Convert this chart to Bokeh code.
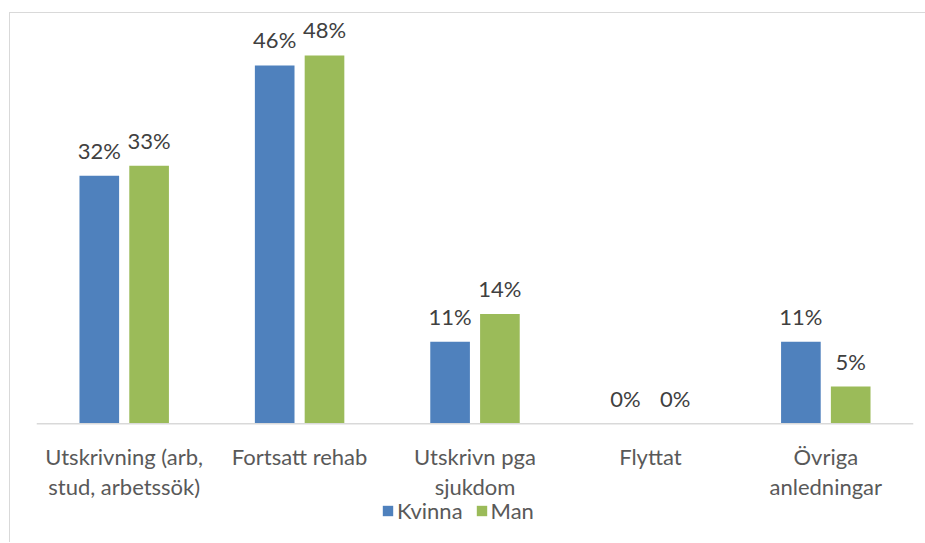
from bokeh.plotting import figure
from bokeh.models import ColumnDataSource, LabelSet, Legend, LegendItem, FactorRange, Span
from bokeh.core.properties import value
from bokeh.transform import dodge
from bokeh.embed import file_html
from bokeh.resources import INLINE

categories = ["Utskrivning (arb,\nstud, arbetssök)", "Fortsatt rehab", "Utskrivn pga\nsjukdom", "Flyttat", "Övriga\nanledningar"]
series_names = ["Kvinna", "Man"]
kvinna = [32.1, 46.4, 10.6, 0.0, 10.6]
man = [33.4, 47.7, 14.2, 0.0, 4.8]
colors = ["#4f81bd", "#9bbb59"]

FONT = "Lato"

src = ColumnDataSource(data=dict(
    cat=categories,
    kvinna=kvinna,
    man=man,
    kvinna_lbl=[f"{round(v)}%" for v in kvinna],
    man_lbl=[f"{round(v)}%" for v in man],
))
line1 = [c.split("\n")[0] for c in categories]
line2 = [c.split("\n")[1] if "\n" in c else "" for c in categories]
cat_src = ColumnDataSource(data=dict(cat=categories, y=[0] * len(categories),
                                     line1=line1, line2=line2))

p = figure(x_range=FactorRange(*categories), y_range=(-15.39, 53),
           frame_width=877, frame_height=528, output_backend="svg", toolbar_location=None,
           x_axis_location=None, y_axis_location=None,
           min_border_left=26, min_border_right=12, min_border_top=1, min_border_bottom=0)
p.margin = (12, 0, 0, 9)
p.styles = {"border-left": "1px solid #d9d9d9", "border-top": "1px solid #d9d9d9"}
p.outline_line_color = None
p.background_fill_color = "white"
p.border_fill_color = "white"
p.xgrid.grid_line_color = None
p.ygrid.grid_line_color = None

r1 = p.vbar(x=dodge("cat", -0.142, range=p.x_range), top="kvinna", width=0.226,
            source=src, color=colors[0], line_color=None)
r2 = p.vbar(x=dodge("cat", 0.142, range=p.x_range), top="man", width=0.226,
            source=src, color=colors[1], line_color=None)

# category baseline (axis line)
p.add_layout(Span(location=0, dimension="width", line_color="#d9d9d9", line_width=1.5))

for off, col in [(-0.142, "kvinna"), (0.142, "man")]:
    lbl = LabelSet(x=dodge("cat", off, range=p.x_range), y=col, text=col + "_lbl",
                   source=src, text_align="center", text_baseline="alphabetic",
                   y_offset=17, text_font=value(FONT), text_font_size=value("22px"),
                   text_color=value("#404040"))
    p.add_layout(lbl)

# category tick labels, one centred line each
for field, yoff in [("line1", -33), ("line2", -63)]:
    cat_lbl = LabelSet(x="cat", y="y", text=field, source=cat_src,
                       text_align="center", text_baseline="middle", y_offset=yoff,
                       text_font=value(FONT), text_font_size=value("22px"),
                       text_color=value("#595959"))
    p.add_layout(cat_lbl)

legend = Legend(items=[LegendItem(label=series_names[0], renderers=[r1]),
                       LegendItem(label=series_names[1], renderers=[r2])],
                orientation="horizontal", location=(345, 18),
                label_text_font=FONT, label_text_font_size="22px", label_text_color="#595959",
                glyph_width=13, glyph_height=13, label_standoff=3, spacing=12,
                padding=0, margin=0, border_line_color=None, background_fill_alpha=0)
p.add_layout(legend, "center")

open("out.html", "w").write(file_html(p, INLINE))
